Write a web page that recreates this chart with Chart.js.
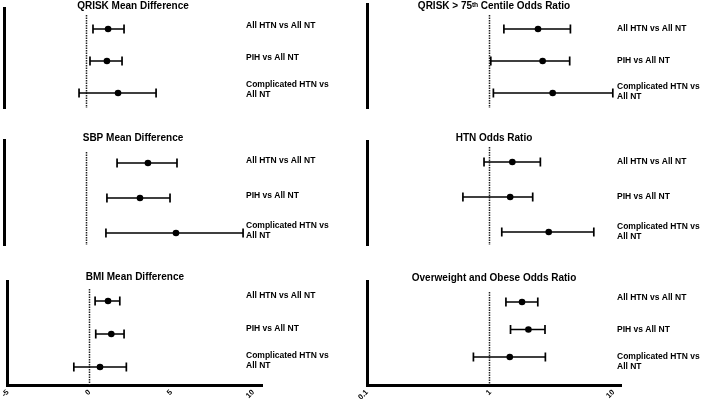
<!DOCTYPE html>
<html>
<head>
<meta charset="utf-8">
<script src="https://cdn.jsdelivr.net/npm/chart.js@4.4.0/dist/chart.umd.min.js"></script>
<style>
  html, body { margin: 0; padding: 0; background: #fff; }
  body { width: 703px; height: 402px; position: relative; overflow: hidden; }
  .panel { position: absolute; }
</style>
</head>
<body>
<div class="panel" style="left:0;top:0;width:350px;height:130px"><canvas id="qriskMD"></canvas></div>
<div class="panel" style="left:0;top:130px;width:350px;height:130px"><canvas id="sbpMD"></canvas></div>
<div class="panel" style="left:0;top:262px;width:350px;height:140px"><canvas id="bmiMD"></canvas></div>
<div class="panel" style="left:350px;top:0;width:353px;height:130px"><canvas id="qrisk75OR"></canvas></div>
<div class="panel" style="left:350px;top:130px;width:353px;height:130px"><canvas id="htnOR"></canvas></div>
<div class="panel" style="left:350px;top:262px;width:353px;height:140px"><canvas id="owOR"></canvas></div>

<script>
/* ---- data ---- */
const rowLabels = ['All HTN vs All NT', 'PIH vs All NT', ['Complicated HTN vs', 'All NT']];
const mdTicks = [-5, 0, 5, 10];
const orTicks = [0.1, 1, 10];

/* mean differences: estimate, lower CI, upper CI */
const qriskMean = [1.27, 1.20, 1.87];
const qriskLow  = [0.36, 0.18, -0.48];
const qriskHigh = [2.23, 2.11, 4.16];

const sbpMean = [3.67, 3.19, 5.36];
const sbpLow  = [1.81, 1.20, 1.14];
const sbpHigh = [5.42, 5.00, 9.40];

const bmiMean = [1.13, 1.33, 0.64];
const bmiLow  = [0.34, 0.38, -0.96];
const bmiHigh = [1.85, 2.11, 2.25];

/* odds ratios: estimate, lower CI, upper CI */
const qrisk75OR   = [2.44, 2.66, 3.21];
const qrisk75Low  = [1.29, 1.01, 1.06];
const qrisk75High = [4.47, 4.41, 9.87];

const htnOR   = [1.51, 1.45, 2.98];
const htnLow  = [0.89, 0.60, 1.24];
const htnHigh = [2.55, 2.21, 6.92];

const owOR   = [1.81, 2.04, 1.44];
const owLow  = [1.34, 1.46, 0.73];
const owHigh = [2.43, 2.78, 2.80];

const FONT = "'Liberation Sans', Arial, sans-serif";

/* ---- plugins ---- */
const refLine = {
  id: 'refLine',
  beforeDatasetsDraw(chart, args, opts) {
    const { ctx, chartArea, scales: { x } } = chart;
    const px = Math.round(x.getPixelForValue(opts.value)) - 0.5;
    ctx.save();
    ctx.strokeStyle = '#222';
    ctx.lineWidth = 1.5;
    ctx.setLineDash([1.5, 1]);
    ctx.beginPath();
    ctx.moveTo(px, chartArea.top + opts.gap);
    ctx.lineTo(px, chartArea.bottom);
    ctx.stroke();
    ctx.restore();
  }
};

const errorBars = {
  id: 'errorBars',
  beforeDatasetsDraw(chart) {
    const { ctx, scales: { x, y } } = chart;
    const ds = chart.data.datasets[0];
    ctx.save();
    ctx.strokeStyle = '#000';
    ctx.lineWidth = 1.7;
    ds.data.forEach((p, i) => {
      const py = y.getPixelForValue(p.y);
      const x1 = x.getPixelForValue(ds.lower[i]);
      const x2 = x.getPixelForValue(ds.upper[i]);
      ctx.beginPath();
      ctx.moveTo(x1, py); ctx.lineTo(x2, py);
      ctx.moveTo(x1, py - 4.5); ctx.lineTo(x1, py + 4.5);
      ctx.moveTo(x2, py - 4.5); ctx.lineTo(x2, py + 4.5);
      ctx.stroke();
    });
    ctx.restore();
  }
};

/* comparison labels, placed on the right-hand yR scale */
const rowText = {
  id: 'rowText',
  afterDraw(chart, args, opts) {
    const { ctx, chartArea, scales: { yR } } = chart;
    ctx.save();
    ctx.fillStyle = '#000';
    ctx.font = `bold 8.5px ${FONT}`;
    ctx.textAlign = 'left';
    ctx.textBaseline = 'middle';
    rowLabels.forEach((label, i) => {
      const lines = [].concat(label);
      const cy = yR.getPixelForValue(i + 1);
      lines.forEach((line, j) => {
        ctx.fillText(line, chartArea.right + opts.dx, cy + (j - (lines.length - 1) / 2) * 10.2);
      });
    });
    ctx.restore();
  }
};

/* ---- panel factory ---- */
function makePanel(id, cfg) {
  const xTicks = cfg.log ? orTicks : mdTicks;
  const side = cfg.log ? { padLeft: 17, labelW: 82, dx: -4 } : { padLeft: 4, labelW: 88, dx: -16 };

  return new Chart(document.getElementById(id), {
    type: 'scatter',
    data: {
      datasets: [{
        data: cfg.est.map((v, i) => ({ x: v, y: i + 1 })),
        lower: cfg.lo,
        upper: cfg.hi,
        pointRadius: 3.3,
        backgroundColor: '#000',
        borderColor: '#000',
        borderWidth: 0
      }]
    },
    options: {
      responsive: true,
      maintainAspectRatio: false,
      animation: false,
      events: [],
      layout: { padding: { left: side.padLeft, right: 0, top: 0, bottom: cfg.padBottom } },
      plugins: {
        legend: { display: false },
        tooltip: { enabled: false },
        title: {
          display: true,
          text: cfg.title,
          fullSize: false,
          color: '#000',
          font: { family: FONT, size: 10, weight: 'bold', lineHeight: 1 },
          padding: { top: cfg.titleTop, bottom: cfg.titleBottom }
        },
        refLine: { value: cfg.log ? 1 : 0, gap: cfg.gap },
        rowText: { dx: side.dx }
      },
      scales: {
        x: {
          type: cfg.log ? 'logarithmic' : 'linear',
          min: cfg.log ? 0.1 : -5,
          max: cfg.log ? 11.5 : 10.54,
          display: cfg.showX,
          afterBuildTicks: s => { s.ticks = xTicks.map(v => ({ value: v })); },
          afterFit: s => { if (cfg.showX) s.height = 17; },
          grid: { display: false, drawTicks: false },
          border: { display: true, width: 3, color: '#000' },
          ticks: {
            color: '#000',
            font: { family: FONT, size: 7.5, weight: 'bold' },
            minRotation: 45,
            maxRotation: 45,
            padding: 3,
            autoSkip: false,
            callback: (v, i) => String(xTicks[i])
          }
        },
        y: {
          type: 'linear',
          position: 'left',
          reverse: true,
          min: cfg.yMin,
          max: cfg.yMax,
          grid: { display: false, drawTicks: false },
          ticks: { display: false },
          border: { display: true, width: 3, color: '#000' },
          afterFit: s => { s.width = 0; }
        },
        yR: {
          type: 'linear',
          position: 'right',
          reverse: true,
          min: cfg.lMin,
          max: cfg.lMax,
          grid: { display: false, drawTicks: false },
          border: { display: false },
          ticks: { display: false },
          afterFit: s => { s.width = side.labelW; }
        }
      }
    },
    plugins: [refLine, errorBars, rowText]
  });
}

/* ---- left column: mean differences ---- */
makePanel('qriskMD', {
  title: 'QRISK Mean Difference', est: qriskMean, lo: qriskLow, hi: qriskHigh,
  log: false, showX: false, padBottom: 22, titleTop: 1, titleBottom: -3, gap: 7,
  yMin: 0.344, yMax: 3.469, lMin: 0.4375, lMax: 3.5625
});
makePanel('sbpMD', {
  title: 'SBP Mean Difference', est: sbpMean, lo: sbpLow, hi: sbpHigh,
  log: false, showX: false, padBottom: 15, titleTop: 3, titleBottom: -3, gap: 12,
  yMin: 0.343, yMax: 3.343, lMin: 0.4, lMax: 3.4
});
makePanel('bmiMD', {
  title: 'BMI Mean Difference', est: bmiMean, lo: bmiLow, hi: bmiHigh,
  log: false, showX: true, padBottom: 0, titleTop: 10, titleBottom: -1, gap: 8,
  yMin: 0.394, yMax: 3.545, lMin: 0.538, lMax: 3.738
});

/* ---- right column: odds ratios ---- */
makePanel('qrisk75OR', {
  title: 'QRISK > 75ᵗʰ Centile Odds Ratio', est: qrisk75OR, lo: qrisk75Low, hi: qrisk75High,
  log: true, showX: false, padBottom: 22, titleTop: 1, titleBottom: -7, gap: 11,
  yMin: 0.219, yMax: 3.469, lMin: 0.206, lMax: 3.508
});
makePanel('htnOR', {
  title: 'HTN Odds Ratio', est: htnOR, lo: htnLow, hi: htnHigh,
  log: true, showX: false, padBottom: 15, titleTop: 3, titleBottom: -2, gap: 6,
  yMin: 0.4, yMax: 3.371, lMin: 0.4, lMax: 3.371
});
makePanel('owOR', {
  title: 'Overweight and Obese Odds Ratio', est: owOR, lo: owLow, hi: owHigh,
  log: true, showX: true, padBottom: 0, titleTop: 11, titleBottom: -2, gap: 11,
  yMin: 0.236, yMax: 4.018, lMin: 0.469, lMax: 3.719
});
</script>
</body>
</html>
